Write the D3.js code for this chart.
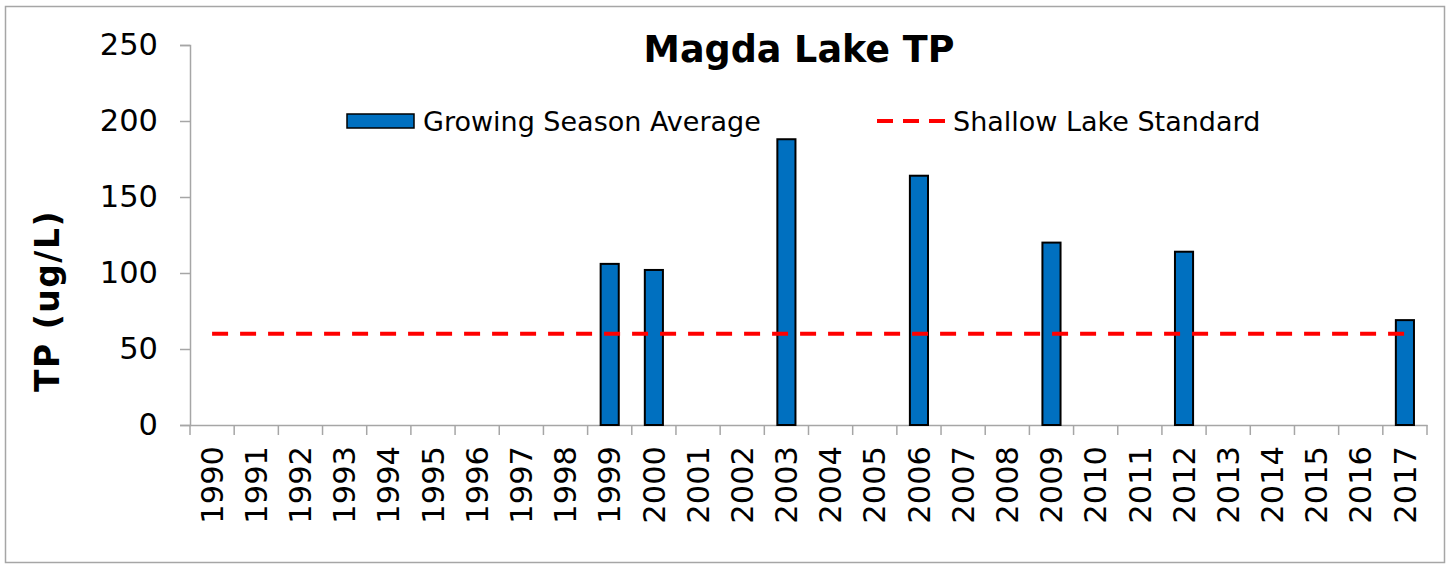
<!DOCTYPE html>
<html>
<head>
<meta charset="utf-8">
<script src="https://cdn.jsdelivr.net/npm/d3@7"></script>
<style>
  body { margin: 0; background: #fff; }
  text { font-family: "DejaVu Sans", Verdana, sans-serif; }
</style>
</head>
<body>
<div id="chart"></div>
<script>
// data
const years = d3.range(1990, 2018).map(String);
const tpYears = ['1999', '2000', '2003', '2006', '2009', '2012', '2017'];
const tpValues = [106, 102, 188, 164, 120, 114, 69];
const standard = 60;
const yTicks = [0, 50, 100, 150, 200, 250];

const width = 1452;
const height = 565;
const margin = {top: 45, right: 25, bottom: 140, left: 190};

const svg = d3.select('#chart')
    .append('svg')
    .attr('width', width)
    .attr('height', height);

// outer frame
svg.append('rect')
    .attr('x', 5.5).attr('y', 6.5)
    .attr('width', 1439).attr('height', 556)
    .attr('fill', 'none')
    .attr('stroke', '#a6a6a6')
    .attr('stroke-width', 1.5);

const x = d3.scaleBand()
    .domain(years)
    .range([margin.left, width - margin.right]);

const y = d3.scaleLinear()
    .domain([0, 250])
    .range([height - margin.bottom, margin.top]);

// y axis
const yAxis = svg.append('g')
    .attr('transform', `translate(${margin.left},0)`)
    .call(d3.axisLeft(y).tickValues(yTicks).tickSize(10).tickPadding(22));
yAxis.select('.domain').attr('stroke', '#a6a6a6').attr('stroke-width', 1.5);
yAxis.selectAll('.tick line').attr('stroke', '#a6a6a6').attr('stroke-width', 1.5);
yAxis.selectAll('.tick text')
    .attr('font-size', 30.5)
    .attr('font-family', '"DejaVu Sans", Verdana, sans-serif')
    .attr('fill', '#000');

// x axis
const xAxis = svg.append('g')
    .attr('transform', `translate(0,${y(0)})`)
    .call(d3.axisBottom(x).tickSize(0));
xAxis.select('.domain').attr('stroke', '#a6a6a6').attr('stroke-width', 1.5);
xAxis.selectAll('.tick text')
    .attr('font-size', 30.5)
    .attr('font-family', '"DejaVu Sans", Verdana, sans-serif')
    .attr('fill', '#000')
    .attr('transform', 'rotate(-90)')
    .attr('text-anchor', 'end')
    .attr('x', -21)
    .attr('y', 0)
    .attr('dy', '0.35em');

// category boundary ticks
const edges = years.map(d => x(d)).concat([x(years[years.length - 1]) + x.bandwidth()]);
svg.append('g')
    .selectAll('line')
    .data(edges)
    .enter()
    .append('line')
    .attr('x1', d => d).attr('x2', d => d)
    .attr('y1', y(0)).attr('y2', y(0) + 10)
    .attr('stroke', '#a6a6a6')
    .attr('stroke-width', 1.5);

// bars
const barW = x.bandwidth() * 0.41;
svg.append('g')
    .selectAll('rect')
    .data(tpYears.map((d, i) => ({year: d, value: tpValues[i]})))
    .enter()
    .append('rect')
    .attr('x', d => x(d.year) + (x.bandwidth() - barW) / 2)
    .attr('y', d => y(d.value))
    .attr('width', barW)
    .attr('height', d => y(0) - y(d.value))
    .attr('fill', '#0070c0')
    .attr('stroke', '#000')
    .attr('stroke-width', 2);

// shallow lake standard line
svg.append('line')
    .attr('x1', x(years[0]) + x.bandwidth() / 2)
    .attr('x2', x(years[years.length - 1]) + x.bandwidth() / 2)
    .attr('y1', y(standard)).attr('y2', y(standard))
    .attr('stroke', '#ff0000')
    .attr('stroke-width', 4)
    .attr('stroke-dasharray', '16,12');

// title
svg.append('text')
    .attr('x', 799)
    .attr('y', 62)
    .attr('text-anchor', 'middle')
    .attr('font-size', 36.5)
    .attr('font-weight', 'bold')
    .text('Magda Lake TP');

// y axis title
svg.append('text')
    .attr('transform', `translate(59,301) rotate(-90)`)
    .attr('text-anchor', 'middle')
    .attr('font-size', 33)
    .attr('font-weight', 'bold')
    .attr('letter-spacing', 1.5)
    .text('TP (ug/L)');

// legend
const legend = svg.append('g');
legend.append('rect')
    .attr('x', 347).attr('y', 114)
    .attr('width', 67).attr('height', 14)
    .attr('fill', '#0070c0')
    .attr('stroke', '#000')
    .attr('stroke-width', 1.5);
legend.append('text')
    .attr('x', 423).attr('y', 131)
    .attr('font-size', 27)
    .text('Growing Season Average');
legend.append('line')
    .attr('x1', 877).attr('x2', 946)
    .attr('y1', 121).attr('y2', 121)
    .attr('stroke', '#ff0000')
    .attr('stroke-width', 4)
    .attr('stroke-dasharray', '16,10');
legend.append('text')
    .attr('x', 953).attr('y', 131)
    .attr('font-size', 27)
    .text('Shallow Lake Standard');
</script>
</body>
</html>
